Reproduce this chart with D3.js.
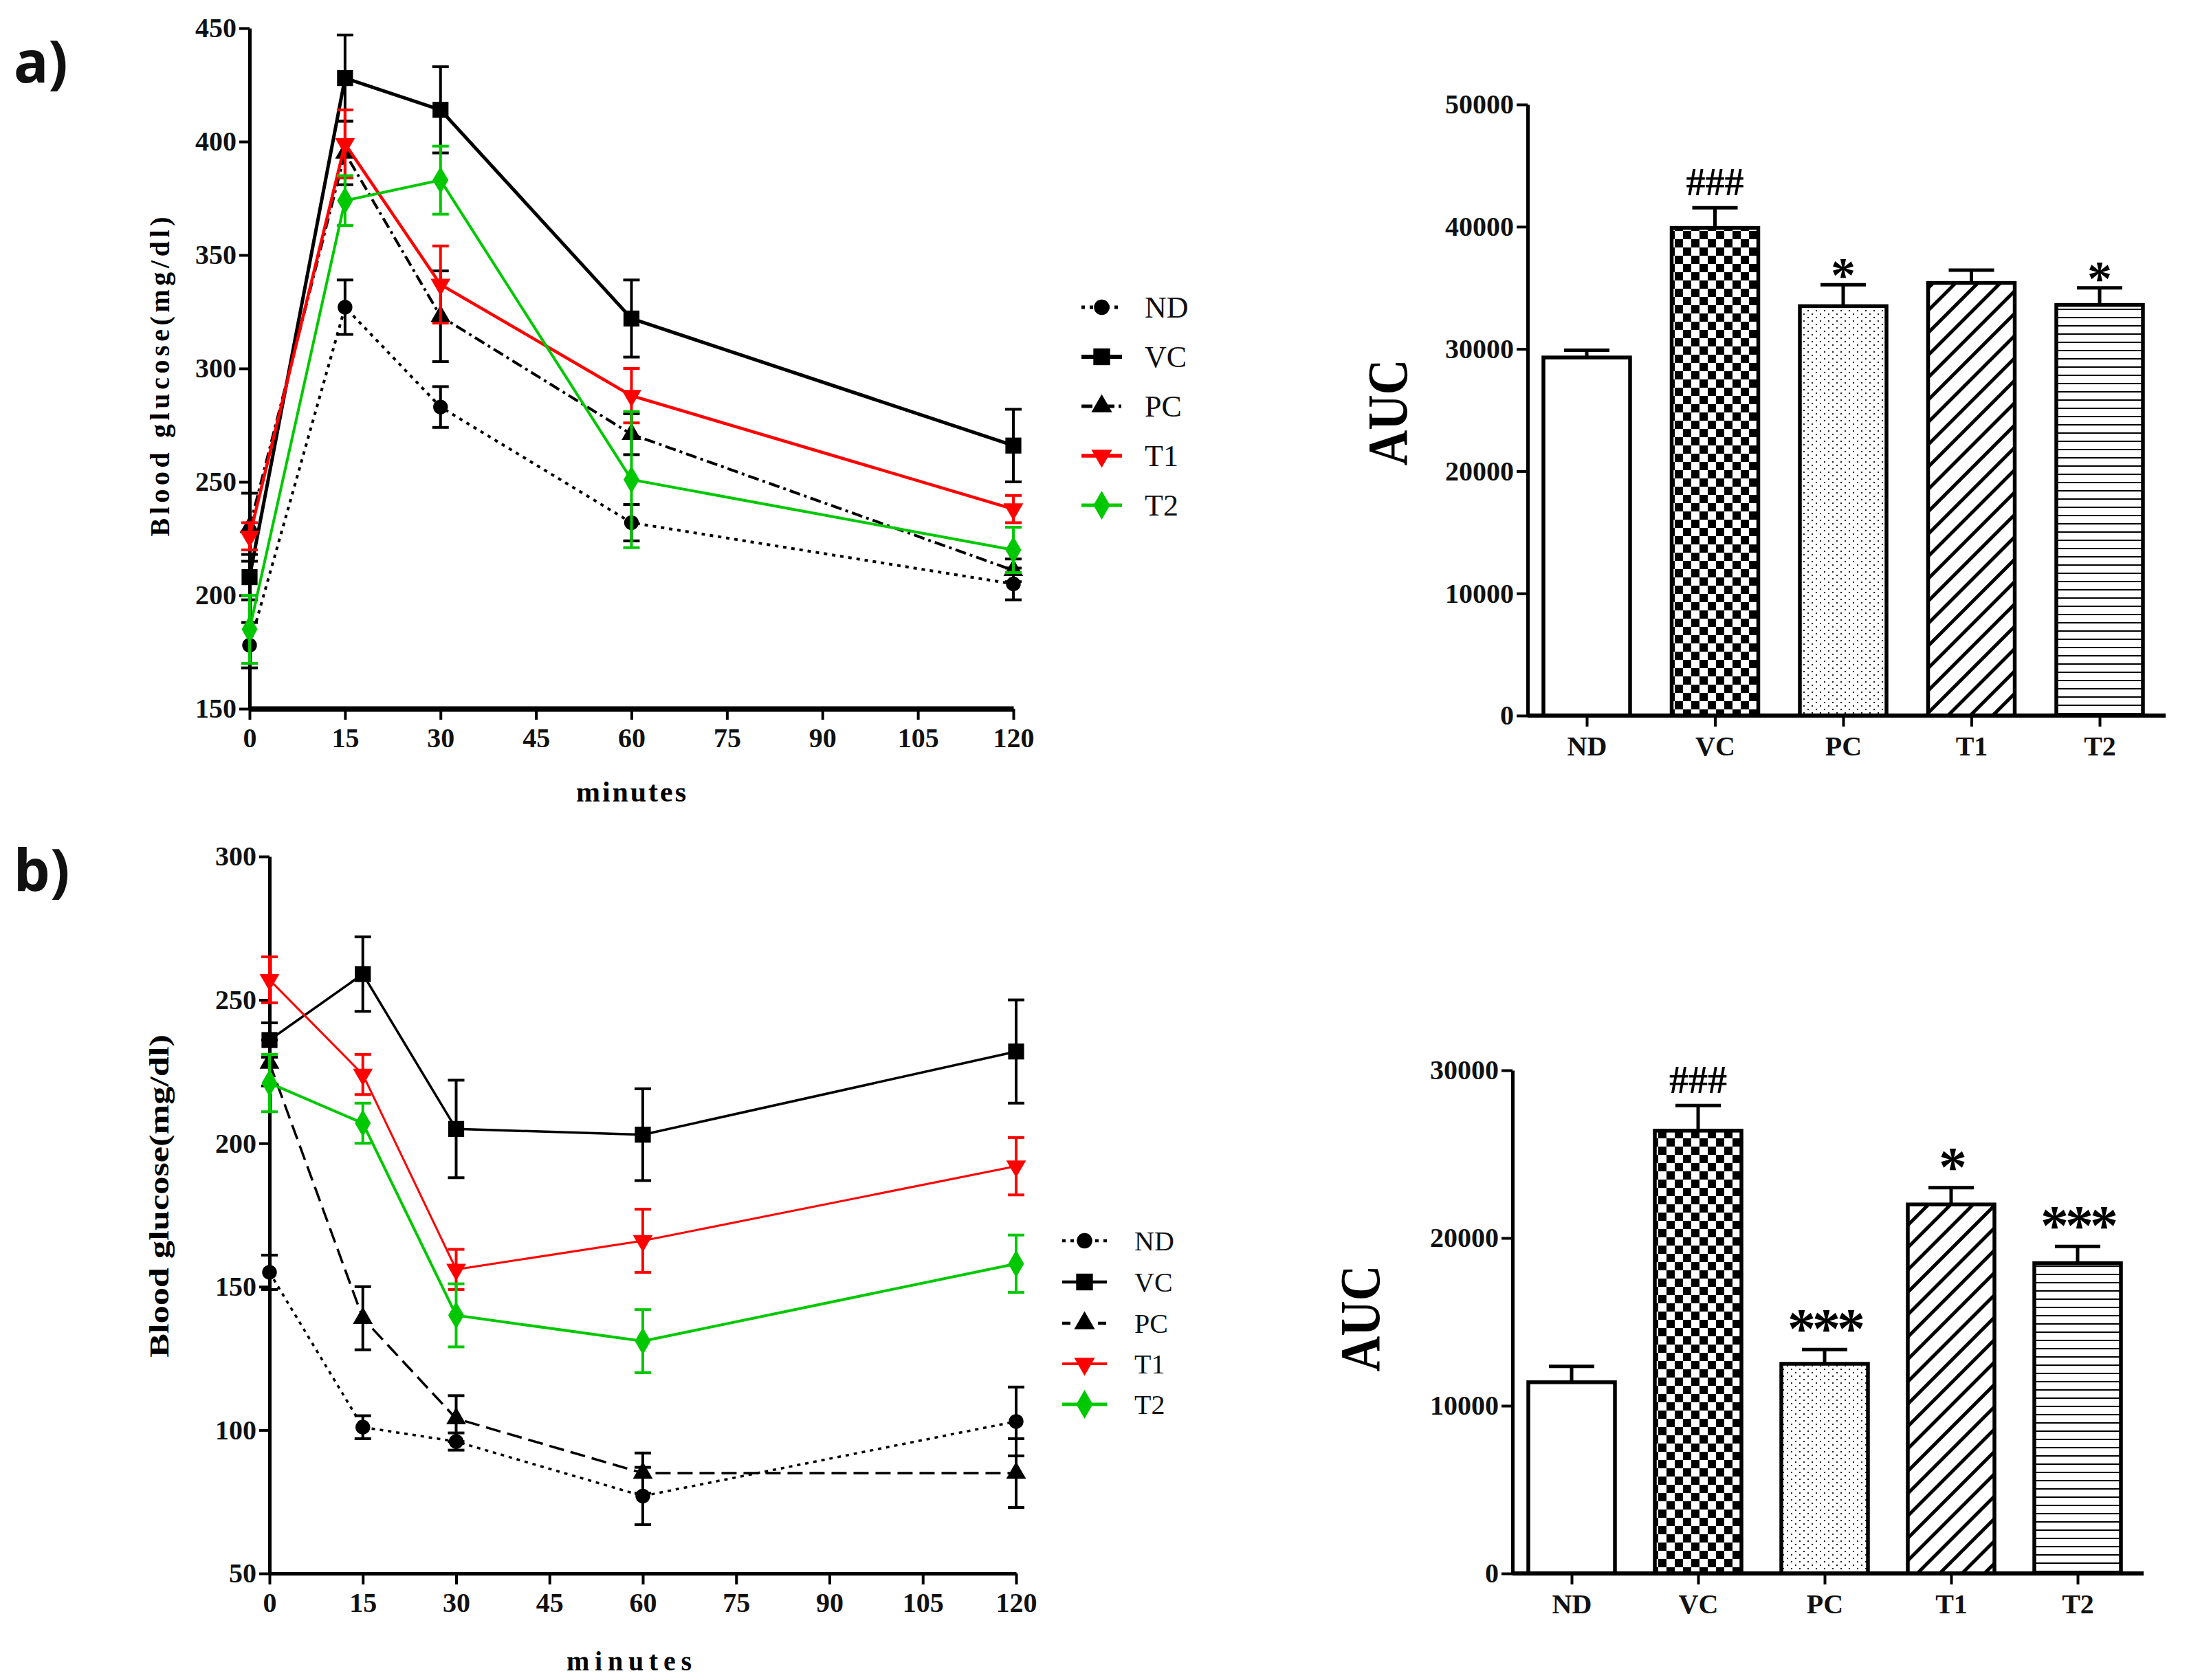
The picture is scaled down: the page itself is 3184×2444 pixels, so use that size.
<!DOCTYPE html>
<html>
<head>
<meta charset="utf-8">
<script src="https://cdn.jsdelivr.net/npm/d3@7.9.0/dist/d3.min.js"></script>
<style>
  body { margin: 0; background: #fff; }
  svg { display: block; }
</style>
</head>
<body>
<div id="chart"></div>
<script>
const minutes = [0, 15, 30, 60, 120];
const groups = ['ND', 'VC', 'PC', 'T1', 'T2'];

// a) blood glucose (mg/dl) mean and SEM per group
const aND = [178, 327, 283, 232, 205];
const aNDsem = [10, 12, 9, 8, 7];
const aVC = [208, 428, 414, 322, 266];
const aVCsem = [10, 19, 19, 17, 16];
const aPC = [230, 395, 323, 271, 211];
const aPCsem = [15, 14, 20, 9, 5];
const aT1 = [226, 399, 337, 288, 238];
const aT1sem = [6, 15, 17, 12, 6];
const aT2 = [185, 374, 383, 251, 220];
const aT2sem = [15, 11, 15, 30, 10];

// b) blood glucose (mg/dl) mean and SEM per group
const bND = [155, 101, 96, 77, 103];
const bNDsem = [6, 4, 3, 10, 12];
const bVC = [236, 259, 205, 203, 232];
const bVCsem = [6, 13, 17, 16, 18];
const bPC = [228, 139, 104, 85, 85];
const bPCsem = [8, 11, 8, 7, 12];
const bT1 = [257, 224, 156, 166, 192];
const bT1sem = [8, 7, 7, 11, 10];
const bT2 = [221, 207, 140, 131, 158];
const bT2sem = [10, 7, 11, 11, 10];

// AUC bars
const aucA = [29300, 39900, 33500, 35400, 33600];
const aucAsem = [600, 1650, 1750, 1050, 1400];
const sigA = ['', '###', '*', '', '*'];
const aucB = [11400, 26400, 12500, 22000, 18500];
const aucBsem = [950, 1500, 850, 1000, 1000];
const sigB = ['', '###', '***', '*', '***'];

const xTicks = d3.range(0, 121, 15);
const serif = '"Liberation Serif", "Times New Roman", serif';
const green = '#00c800';

const svg = d3.select('#chart').append('svg')
    .attr('width', 3184)
    .attr('height', 2444)
    .style('background', '#fff');

// fill patterns for the AUC bars
const defs = svg.append('defs');
const checker = defs.append('pattern').attr('id', 'p-checker')
    .attr('patternUnits', 'userSpaceOnUse').attr('width', 24).attr('height', 24);
checker.append('rect').attr('width', 24).attr('height', 24).attr('fill', '#fff');
checker.append('rect').attr('width', 12).attr('height', 12).attr('fill', '#000');
checker.append('rect').attr('x', 12).attr('y', 12).attr('width', 12).attr('height', 12).attr('fill', '#000');

const dots = defs.append('pattern').attr('id', 'p-dots')
    .attr('patternUnits', 'userSpaceOnUse').attr('width', 12).attr('height', 10);
dots.append('rect').attr('width', 12).attr('height', 10).attr('fill', '#fff');
dots.append('rect').attr('x', 1).attr('y', 1).attr('width', 2).attr('height', 2).attr('fill', '#222');
dots.append('rect').attr('x', 7).attr('y', 6).attr('width', 2).attr('height', 2).attr('fill', '#222');

const diag = defs.append('pattern').attr('id', 'p-diag')
    .attr('patternUnits', 'userSpaceOnUse').attr('width', 23).attr('height', 23)
    .attr('patternTransform', 'rotate(45)');
diag.append('rect').attr('width', 23).attr('height', 23).attr('fill', '#fff');
diag.append('rect').attr('width', 5).attr('height', 23).attr('fill', '#000');

const hlines = defs.append('pattern').attr('id', 'p-hlines')
    .attr('patternUnits', 'userSpaceOnUse').attr('width', 12).attr('height', 12);
hlines.append('rect').attr('width', 12).attr('height', 12).attr('fill', '#fff');
hlines.append('rect').attr('y', 5).attr('width', 12).attr('height', 2).attr('fill', '#000');

const barFill = { ND: '#fff', VC: 'url(#p-checker)', PC: 'url(#p-dots)', T1: 'url(#p-diag)', T2: 'url(#p-hlines)' };

const symbolFor = {
    ND: { type: d3.symbolCircle, size: 360, rot: 0 },
    VC: { type: d3.symbolSquare, size: 540, rot: 0 },
    PC: { type: d3.symbolTriangle, size: 360, rot: 0 },
    T1: { type: d3.symbolTriangle, size: 360, rot: 180 },
    T2: { type: d3.symbolDiamond, size: 460, rot: 0 },
};

function styleAxis(g, size) {
    g.attr('font-family', serif).attr('font-size', size).attr('font-weight', 'bold');
    g.selectAll('text').attr('fill', '#111');
    g.selectAll('.tick line').attr('stroke', '#000').attr('stroke-width', 4);
}

function drawLinePanel(cfg) {
    const x = d3.scaleLinear().domain([0, 120]).range(cfg.xRange);
    const y = d3.scaleLinear().domain(cfg.yDomain).range(cfg.yRange);

    const gx = svg.append('g')
        .attr('transform', `translate(0,${cfg.yRange[0]})`)
        .call(d3.axisBottom(x).tickValues(xTicks).tickSize(16).tickSizeOuter(0).tickPadding(12));
    styleAxis(gx, cfg.tickFont);
    gx.select('.domain').attr('stroke', '#000').attr('stroke-width', cfg.xAxisWidth);

    const gy = svg.append('g')
        .attr('transform', `translate(${cfg.xRange[0]},0)`)
        .call(d3.axisLeft(y).tickValues(d3.range(cfg.yDomain[0], cfg.yDomain[1] + 1, 50))
            .tickSize(15).tickSizeOuter(0).tickPadding(4));
    styleAxis(gy, cfg.tickFont);
    gy.select('.domain').attr('stroke', '#000').attr('stroke-width', cfg.yAxisWidth);

    const line = d3.line().x((d, i) => x(minutes[i])).y(d => y(d));

    cfg.series.forEach(s => {
        const st = cfg.styles[s.name];
        const g = svg.append('g');
        g.append('path')
            .attr('d', line(s.values))
            .attr('fill', 'none')
            .attr('stroke', st.color)
            .attr('stroke-width', st.width)
            .attr('stroke-dasharray', st.dash);

        const pts = s.values.map((v, i) => ({ t: minutes[i], v, e: s.sem[i] }));
        const eb = g.selectAll('g.eb').data(pts).join('g').attr('class', 'eb')
            .attr('stroke', st.color).attr('stroke-width', 4);
        eb.append('line')
            .attr('x1', d => x(d.t)).attr('x2', d => x(d.t))
            .attr('y1', d => y(d.v - d.e)).attr('y2', d => y(d.v + d.e));
        eb.append('line')
            .attr('x1', d => x(d.t) - 12).attr('x2', d => x(d.t) + 12)
            .attr('y1', d => y(d.v + d.e)).attr('y2', d => y(d.v + d.e));
        eb.append('line')
            .attr('x1', d => x(d.t) - 12).attr('x2', d => x(d.t) + 12)
            .attr('y1', d => y(d.v - d.e)).attr('y2', d => y(d.v - d.e));

        const sym = symbolFor[s.name];
        g.selectAll('path.mk').data(pts).join('path').attr('class', 'mk')
            .attr('d', d3.symbol().type(sym.type).size(sym.size))
            .attr('transform', d => `translate(${x(d.t)},${y(d.v)}) rotate(${sym.rot})`)
            .attr('fill', st.color);
    });

    // legend
    const lg = cfg.legend;
    groups.forEach((name, i) => {
        const st = cfg.styles[name];
        const sym = symbolFor[name];
        const ry = lg.rows[i];
        svg.append('line')
            .attr('x1', lg.x0).attr('x2', lg.x1).attr('y1', ry).attr('y2', ry)
            .attr('stroke', st.color).attr('stroke-width', st.width + 1)
            .attr('stroke-dasharray', st.legendDash || st.dash);
        svg.append('path')
            .attr('d', d3.symbol().type(sym.type).size(sym.size * 1.1)())
            .attr('transform', `translate(${(lg.x0 + lg.x1) / 2},${ry}) rotate(${sym.rot})`)
            .attr('fill', st.color);
        svg.append('text')
            .attr('x', lg.tx).attr('y', ry + lg.font * 0.34)
            .attr('font-family', serif).attr('font-size', lg.font)
            .attr('fill', '#111')
            .text(name);
    });

    svg.append('text')
        .attr('x', cfg.xLabel.x).attr('y', cfg.xLabel.y)
        .attr('text-anchor', 'middle')
        .attr('font-family', serif).attr('font-weight', 'bold')
        .attr('font-size', cfg.xLabel.font)
        .attr('textLength', cfg.xLabel.len).attr('lengthAdjust', 'spacing')
        .text('minutes');

    svg.append('text')
        .attr('transform', `translate(${cfg.yLabel.x},${cfg.yLabel.y}) rotate(-90)`)
        .attr('text-anchor', 'middle')
        .attr('font-family', serif).attr('font-weight', 'bold')
        .attr('font-size', cfg.yLabel.font)
        .attr('textLength', cfg.yLabel.len).attr('lengthAdjust', cfg.yLabel.adjust)
        .text('Blood glucose(mg/dl)');
}

function drawBarPanel(cfg) {
    const x = d3.scalePoint().domain(groups).range(cfg.xRange);
    const y = d3.scaleLinear().domain(cfg.yDomain).range(cfg.yRange);
    const bw = cfg.barWidth;
    const rows = groups.map((g, i) => ({ g, v: cfg.values[i], e: cfg.sem[i], sig: cfg.sig[i] }));

    // error bars (upper only)
    const eb = svg.append('g').attr('stroke', '#000').attr('stroke-width', 5);
    eb.selectAll('line.v').data(rows).join('line').attr('class', 'v')
        .attr('x1', d => x(d.g)).attr('x2', d => x(d.g))
        .attr('y1', d => y(d.v)).attr('y2', d => y(d.v + d.e));
    eb.selectAll('line.c').data(rows).join('line').attr('class', 'c')
        .attr('x1', d => x(d.g) - 33).attr('x2', d => x(d.g) + 33)
        .attr('y1', d => y(d.v + d.e)).attr('y2', d => y(d.v + d.e));

    svg.append('g').selectAll('rect').data(rows).join('rect')
        .attr('x', d => x(d.g) - bw / 2)
        .attr('y', d => y(d.v))
        .attr('width', bw)
        .attr('height', d => y(0) - y(d.v))
        .attr('fill', d => barFill[d.g])
        .attr('stroke', '#000')
        .attr('stroke-width', 5.5);

    svg.append('g').selectAll('text').data(rows.filter(d => d.sig)).join('text')
        .attr('x', d => x(d.g))
        .attr('y', d => y(d.v + d.e) - (d.sig === '###' ? 18 : cfg.starLift))
        .attr('text-anchor', 'middle')
        .attr('font-family', serif).attr('font-weight', 'bold')
        .attr('font-size', d => d.sig === '###' ? cfg.hashFont : cfg.starFont)
        .attr('letter-spacing', d => d.sig === '###' ? 0 : cfg.starSpacing)
        .text(d => d.sig);

    const gx = svg.append('g')
        .attr('transform', `translate(0,${cfg.yRange[0]})`)
        .call(d3.axisBottom(x).tickSize(16).tickSizeOuter(0).tickPadding(14));
    styleAxis(gx, cfg.tickFont);
    gx.select('.domain').remove();
    gx.append('line')
        .attr('x1', cfg.axisX).attr('x2', cfg.axisEnd)
        .attr('stroke', '#000').attr('stroke-width', 6);

    const gy = svg.append('g')
        .attr('transform', `translate(${cfg.axisX},0)`)
        .call(d3.axisLeft(y).ticks(cfg.yDomain[1] / 10000).tickFormat(d3.format('d'))
            .tickSize(16).tickSizeOuter(0).tickPadding(4));
    styleAxis(gy, cfg.tickFont);
    gy.select('.domain').attr('stroke', '#000').attr('stroke-width', 5);

    svg.append('text')
        .attr('transform', `translate(${cfg.yLabel.x},${cfg.yLabel.y}) rotate(-90)`)
        .attr('text-anchor', 'middle')
        .attr('font-family', serif).attr('font-weight', 'bold')
        .attr('font-size', 82)
        .attr('textLength', 155).attr('lengthAdjust', 'spacingAndGlyphs')
        .text('AUC');
}

const stylesA = {
    ND: { color: '#000', width: 4, dash: '5,7' },
    VC: { color: '#000', width: 5, dash: null },
    PC: { color: '#000', width: 4, dash: '16,6,4,6' },
    T1: { color: '#ff0000', width: 4.5, dash: null },
    T2: { color: green, width: 4, dash: null },
};
const stylesB = {
    ND: { color: '#000', width: 3.5, dash: '5,7' },
    VC: { color: '#000', width: 3.5, dash: null },
    PC: { color: '#000', width: 3.5, dash: '22,10', legendDash: '12,14' },
    T1: { color: '#ff0000', width: 3, dash: null },
    T2: { color: green, width: 4, dash: null },
};

drawLinePanel({
    xRange: [363, 1474], yDomain: [150, 450], yRange: [1031, 41],
    tickFont: 40, xAxisWidth: 8, yAxisWidth: 5,
    series: [
        { name: 'ND', values: aND, sem: aNDsem },
        { name: 'VC', values: aVC, sem: aVCsem },
        { name: 'PC', values: aPC, sem: aPCsem },
        { name: 'T1', values: aT1, sem: aT1sem },
        { name: 'T2', values: aT2, sem: aT2sem },
    ],
    styles: stylesA,
    legend: { x0: 1573, x1: 1632, tx: 1665, rows: [447, 519, 591, 663, 735], font: 44 },
    xLabel: { x: 918, y: 1166, font: 42, len: 160 },
    yLabel: { x: 246, y: 548, font: 40, len: 465, adjust: 'spacing' },
});

drawLinePanel({
    xRange: [392, 1478], yDomain: [50, 300], yRange: [2289, 1246],
    tickFont: 40, xAxisWidth: 5, yAxisWidth: 5,
    series: [
        { name: 'ND', values: bND, sem: bNDsem },
        { name: 'VC', values: bVC, sem: bVCsem },
        { name: 'PC', values: bPC, sem: bPCsem },
        { name: 'T1', values: bT1, sem: bT1sem },
        { name: 'T2', values: bT2, sem: bT2sem },
    ],
    styles: stylesB,
    legend: { x0: 1545, x1: 1610, tx: 1650, rows: [1805, 1865, 1925, 1984, 2043], font: 40 },
    xLabel: { x: 915, y: 2430, font: 40, len: 182 },
    yLabel: { x: 245, y: 1740, font: 40, len: 470, adjust: 'spacingAndGlyphs' },
});

drawBarPanel({
    xRange: [2308, 3054], yDomain: [0, 50000], yRange: [1041, 152],
    axisX: 2222, axisEnd: 3150, barWidth: 126,
    values: aucA, sem: aucAsem, sig: sigA,
    tickFont: 40, hashFont: 56, starFont: 72, starSpacing: 0, starLift: -10,
    yLabel: { x: 2046, y: 600 },
});

drawBarPanel({
    xRange: [2286, 3022], yDomain: [0, 30000], yRange: [2289, 1557],
    axisX: 2200, axisEnd: 3118, barWidth: 126,
    values: aucB, sem: aucBsem, sig: sigB,
    tickFont: 40, hashFont: 56, starFont: 82, starSpacing: -5, starLift: 3,
    yLabel: { x: 2006, y: 1918 },
});

// panel letters
svg.append('text').attr('x', 20).attr('y', 120)
    .attr('font-family', '"Noto Sans", sans-serif').attr('font-weight', 'bold')
    .attr('font-size', 84).attr('fill', '#111').text('a)');
svg.append('text').attr('x', 20).attr('y', 1296)
    .attr('font-family', '"Noto Sans", sans-serif').attr('font-weight', 'bold')
    .attr('font-size', 84).attr('fill', '#111').text('b)');
</script>
</body>
</html>
